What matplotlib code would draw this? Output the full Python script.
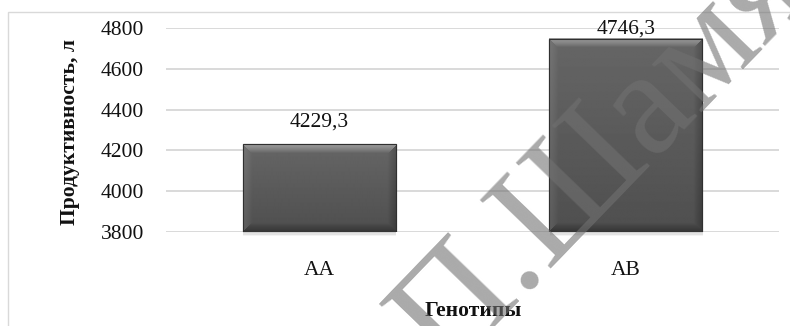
import numpy as np
import matplotlib
matplotlib.use("Agg")
import matplotlib.pyplot as plt
from matplotlib.patches import Rectangle

# --- data -------------------------------------------------------------
genotypes = ["АА", "АВ"]
productivity = [4229.3, 4746.3]
value_labels = ["4229,3", "4746,3"]
y_ticks = [3800, 4000, 4200, 4400, 4600, 4800]

# --- figure geometry --------------------------------------------------
W, H, DPI = 790, 326, 100
plt.rcParams["font.family"] = ["Liberation Serif", "DejaVu Serif"]

fig = plt.figure(figsize=(W / DPI, H / DPI), dpi=DPI)
fig.patch.set_facecolor("white")

ax_l, ax_r, ax_t, ax_b = 166, 779, 28, 232   # plot area in pixels
ax = fig.add_axes([ax_l / W, 1 - ax_b / H, (ax_r - ax_l) / W, (ax_b - ax_t) / H])
ax_w_px, ax_h_px = ax_r - ax_l, ax_b - ax_t

# outer chart border
fig.patches.append(Rectangle((8 / W, -0.2), 1.2, (H - 12) / H + 0.2,
                             transform=fig.transFigure, fill=False,
                             edgecolor="#d9d9d9", linewidth=1.0, zorder=0))

xlim = (-0.5, len(genotypes) - 0.5)
ylim = (y_ticks[0], y_ticks[-1])
px_x = ax_w_px / (xlim[1] - xlim[0])
px_y = ax_h_px / (ylim[1] - ylim[0])

x = np.arange(len(genotypes))
bar_w = 0.5
bars = ax.bar(x, np.array(productivity) - ylim[0], bottom=ylim[0], width=bar_w,
              color="#5c5c5c", edgecolor="#2f2f2f", linewidth=0.8, zorder=3)


def bevel_image(w, h, bevel=9.0):
    """Shaded bar face with a soft bevel along its edges."""
    yy, xx = np.mgrid[0:h, 0:w] + 0.5
    face = 0.40 - 0.09 * (yy / h)
    dt, db, dl, dr = yy, h - yy, xx, w - xx
    d = np.stack([dt, db, dl, dr])
    nearest = np.argmin(d, axis=0)
    dmin = np.min(d, axis=0)
    k = np.clip(1 - dmin / bevel, 0, 1) ** 0.8
    delta = np.array([0.22, -0.10, 0.06, -0.08])[nearest]
    return np.clip(face + delta * k, 0, 1)


for b in bars:
    x0, y0 = b.get_x(), b.get_y()
    x1, y1 = x0 + b.get_width(), y0 + b.get_height()
    w_px = int(round(b.get_width() * px_x))
    h_px = int(round(b.get_height() * px_y))
    # soft drop shadow
    for i, a in enumerate([0.25, 0.18, 0.10]):
        off = (i + 1) * 1.3
        ax.add_patch(Rectangle((x0 + 0.5 / px_x, y0 - off / px_y),
                               b.get_width(), b.get_height(),
                               facecolor="#9a9a9a", edgecolor="none",
                               alpha=a, zorder=2, clip_on=False))
    ax.imshow(bevel_image(w_px, h_px), cmap="gray", vmin=0, vmax=1,
              extent=(x0, x1, y0, y1), origin="upper", aspect="auto",
              interpolation="bilinear", zorder=3.5)
    ax.add_patch(Rectangle((x0, y0), b.get_width(), b.get_height(),
                           fill=False, edgecolor="#303030", linewidth=0.8,
                           zorder=4))

# value labels above the bars, kept inside the plot area
for xi, v, lab in zip(x, productivity, value_labels):
    ly = min(v + 108, ylim[1] - 7)
    ax.text(xi, ly, lab, ha="center", va="center", fontsize=15.5,
            color="#111111", zorder=5)

ax.set_xlim(*xlim)
ax.set_ylim(*ylim)
ax.set_yticks(y_ticks)
ax.set_yticklabels([str(t) for t in y_ticks])
ax.set_xticks(x)
ax.set_xticklabels(genotypes)
ax.tick_params(axis="y", length=0, pad=15.8, labelsize=15.5, labelcolor="#111111")
ax.tick_params(axis="x", length=0, pad=21, labelsize=15.5, labelcolor="#111111")
ax.grid(axis="y", color="#d9d9d9", linewidth=1.4, zorder=0)
ax.set_axisbelow(True)
for s in ax.spines.values():
    s.set_visible(False)
ax.patch.set_alpha(0)

fig.text(70 / W, 1 - 132 / H, "Продуктивность, л", rotation=90,
         ha="center", va="center", fontsize=15.5, fontweight="bold",
         color="#111111")
fig.text(473 / W, 1 - 311 / H, "Генотипы", ha="center", va="center",
         fontsize=15.5, fontweight="bold", color="#111111")

# library watermark
fig.text(446 / W, (H - 373) / H, "П.Шамякина", rotation=46,
         rotation_mode="anchor", ha="left", va="baseline", fontsize=108,
         color="#717171", alpha=0.6, zorder=20)

fig.savefig("out.png", dpi=DPI, facecolor="white")
